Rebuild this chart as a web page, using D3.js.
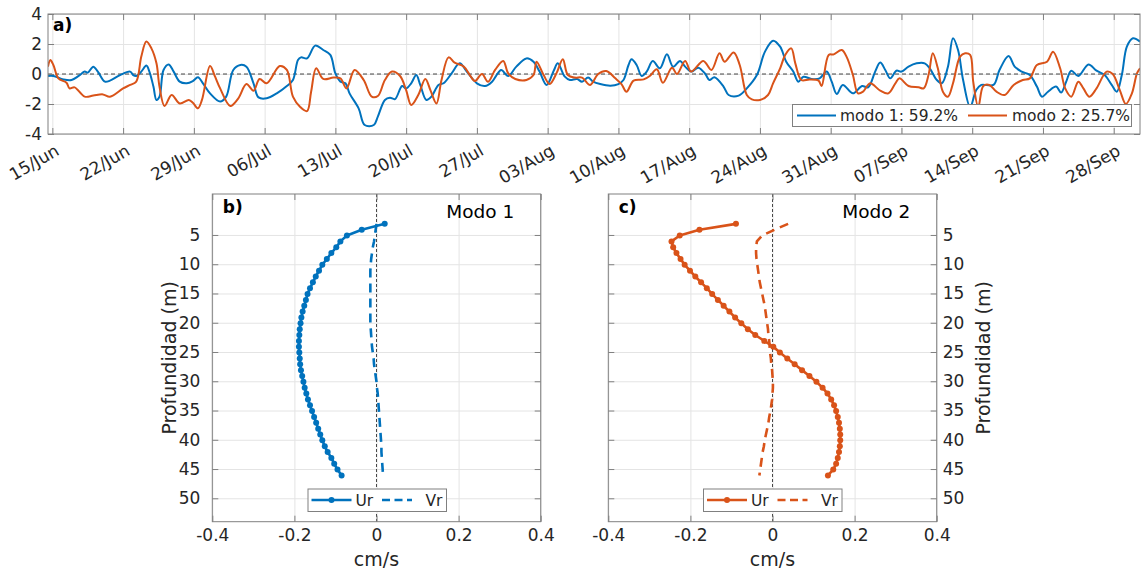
<!DOCTYPE html>
<html>
<head>
<meta charset="utf-8">
<script src="https://cdn.jsdelivr.net/npm/d3@7"></script>
<style>
  body { margin: 0; background: #fff; }
  svg { font-family: "DejaVu Sans", sans-serif; }
</style>
</head>
<body>
<svg id="fig" width="1141" height="573"></svg>
<script>
// ---------- time series of the two EOF modes (days after 15 Jun) ----------
const mode1Days = [-0.43,0.1,1.1,1.9,2.6,3.2,3.5,4.05,4.5,5.2,5.7,6.7,7.7,8.0,8.3,8.8,9.3,9.6,10.0,10.3,10.6,11.0,11.5,12.0,12.6,13.3,13.9,14.4,14.9,15.6,16.6,17.2,17.9,18.6,19.2,19.9,20.4,21.2,22.2,23.2,23.8,24.3,24.6,25.2,26.0,26.8,27.5,28.0,28.5,29.0,29.4,30.3,30.9,31.8,32.2,32.9,33.4,33.9,34.6,35.0,35.5,36.0,36.4,37.0,37.5,38.2,38.7,39.5,40.3,41.0,42.0,42.8,43.5,43.9,44.4,45.1,45.9,46.9,47.6,48.2,48.9,49.6,50.0,50.7,51.2,51.9,52.4,53.0,53.5,54.2,55.2,56.0,56.5,57.0,57.3,57.8,58.3,58.8,59.4,60.1,60.8,61.4,62.1,62.6,63.2,63.9,64.6,65.0,65.5,66.4,66.9,67.9,68.7,69.7,70.5,71.3,72.0,72.6,73.3,73.8,74.3,75.1,75.9,76.6,77.1,77.6,78.2,79.2,80.1,80.7,81.4,81.9,82.4,82.9,83.5,84.0,84.7,85.5,86.3,86.8,87.5,88.0,88.6,89.1,89.6,90.1,90.8,91.4,91.9,93.1,93.7,94.6,95.2,95.9,96.7,97.4,97.9,98.5,99.3,99.8,100.3,100.8,101.5,102.5,103.3,104.1,104.8,105.3,105.8,106.3,106.9,107.6];
const mode1Amp = [-0.13,-0.13,-0.36,-0.40,-0.13,0.16,0.09,0.49,0.16,-0.51,-0.44,-0.07,0.16,-0.07,-0.13,0.16,0.56,0.16,-0.84,-1.73,-1.51,0.27,0.64,0.16,-0.51,-0.62,-0.47,-0.22,-0.62,-1.29,-1.84,-1.51,0.27,0.60,0.49,-0.62,-1.56,-1.62,-1.29,-0.80,-0.40,0.93,1.11,1.04,1.89,1.60,1.27,0.04,-0.51,-0.62,-1.29,-2.29,-3.40,-3.40,-2.84,-1.73,-1.58,-1.67,-0.80,-0.96,-0.62,-0.07,-0.73,-1.73,-1.51,-0.73,-0.62,0.04,0.71,0.16,-0.62,-0.80,-0.51,-0.13,0.27,-0.13,0.49,1.04,0.82,0.16,-0.73,0.22,0.71,-0.18,-0.40,-0.33,-0.51,-0.24,-0.51,-0.67,-0.78,-0.67,-0.40,0.60,0.98,0.60,-0.13,0.16,0.87,0.38,1.31,0.49,0.87,0.49,0.16,0.42,0.00,-0.40,-0.22,-0.84,-1.40,-1.44,-0.96,-0.07,1.49,2.22,1.82,0.82,0.16,-0.51,-0.18,-0.33,-0.29,0.16,-0.51,-1.33,-0.73,-1.29,-0.80,-0.89,0.16,0.76,0.27,-0.29,0.22,0.16,0.49,0.71,0.71,0.38,-0.40,-0.62,0.49,2.38,1.60,-0.40,-2.20,-1.07,-0.73,-0.73,0.27,1.20,0.49,0.16,-0.07,-0.84,-1.51,-1.18,-0.84,-1.24,-0.51,0.22,-0.13,0.64,0.22,-0.07,-0.73,-1.18,-0.07,1.82,2.38,2.16];

const mode2Days = [-0.43,-0.2,0.1,0.6,1.4,1.7,2.2,3.2,4.05,5.0,5.7,7.0,7.7,8.3,8.8,9.3,9.8,10.3,10.6,11.1,11.8,12.6,13.5,13.9,14.4,14.8,15.6,16.1,16.6,17.6,18.4,19.2,19.9,20.5,21.2,22.5,23.2,23.8,24.5,25.2,25.6,26.1,26.8,27.8,28.5,29.1,29.9,30.8,31.6,32.2,32.9,33.6,34.4,35.0,35.5,36.2,36.9,37.4,38.0,38.5,39.2,39.8,40.7,41.3,41.8,42.5,43.1,43.8,44.6,45.1,45.8,46.9,47.6,47.9,48.6,49.2,49.9,50.5,51.0,51.7,52.4,53.2,54.0,54.8,55.7,56.3,56.8,57.5,58.5,59.1,59.8,60.4,61.3,61.8,62.6,63.2,64.4,65.2,66.0,66.5,67.4,68.0,68.7,69.2,70.0,70.8,71.3,72.0,72.5,73.1,73.5,74.1,74.9,75.8,76.1,76.8,77.3,78.1,78.6,79.2,79.7,80.2,80.9,81.9,82.7,83.4,83.8,84.7,85.7,86.2,86.7,87.1,87.6,88.1,88.6,89.1,89.8,90.3,90.8,91.1,91.6,92.1,92.7,93.4,94.2,95.1,96.0,96.7,97.4,98.4,99.0,99.7,100.2,100.8,101.5,102.0,102.6,103.3,104.3,104.9,105.6,106.2,106.8,107.3,107.6];
const mode2Amp = [0.49,0.93,0.60,-0.29,-0.58,-0.96,-0.89,-1.51,-1.44,-1.36,-1.51,-0.96,-0.73,-0.51,1.16,2.16,1.71,0.71,-0.84,-2.13,-1.40,-1.96,-1.73,-1.91,-2.29,-1.73,0.53,-0.18,-0.96,-2.13,-1.62,-0.67,-1.11,-0.33,-0.62,0.53,0.27,-1.51,-2.18,-2.47,-1.18,0.38,-0.33,-0.24,-0.29,-0.96,0.27,-0.40,-1.51,-1.47,-0.40,0.16,-0.13,-1.07,-2.07,-1.40,-0.33,-1.07,-1.96,-0.40,1.11,0.76,0.49,-0.07,-0.47,0.00,-0.51,0.27,0.87,0.04,-0.33,-0.40,-0.07,0.82,-0.07,-0.67,0.09,0.98,-0.07,-0.24,-0.24,-0.73,0.00,0.20,-0.29,-0.67,-1.18,-0.44,-0.36,-0.13,0.31,-0.58,0.42,0.00,0.87,0.16,0.87,0.27,1.38,0.82,1.44,0.60,-1.40,-1.69,-1.73,-1.40,-0.62,0.38,1.27,1.71,0.71,-0.40,-0.36,-0.44,-0.80,1.27,1.31,1.60,1.11,-0.07,-1.29,-1.18,-0.62,-1.11,-1.29,-0.62,-0.29,-0.80,-0.89,-0.96,0.00,1.38,0.38,-1.18,-1.51,-0.62,1.16,1.38,1.27,-0.51,-2.20,-0.80,-0.73,-1.18,-1.40,-0.73,-0.40,-0.29,0.60,0.82,1.49,0.38,-0.96,-1.51,-0.51,-0.96,-1.51,-0.96,0.16,0.00,-1.07,-2.00,-1.29,0.04,0.38];

const modeNames = ["modo 1: 59.2%", "modo 2: 25.7%"];
const dateTickLabels = ["15/Jun","22/Jun","29/Jun","06/Jul","13/Jul","20/Jul","27/Jul","03/Aug","10/Aug","17/Aug","24/Aug","31/Aug","07/Sep","14/Sep","21/Sep","28/Sep"];
const ampTicks = [-4, -2, 0, 2, 4];

// ---------- vertical structure of the modes ----------
const depthBins = [3.1,4.1,5.1,6.1,7.1,8.1,9.1,10.1,11.1,12.1,13.1,14.1,15.1,16.1,17.1,18.1,19.1,20.1,21.1,22.1,23.1,24.1,25.1,26.1,27.1,28.1,29.1,30.1,31.1,32.1,33.1,34.1,35.1,36.1,37.1,38.1,39.1,40.1,41.1,42.1,43.1,44.1,45.1,46.1];
const ur1 = [0.020,-0.036,-0.072,-0.088,-0.098,-0.110,-0.121,-0.132,-0.140,-0.148,-0.155,-0.162,-0.168,-0.172,-0.176,-0.180,-0.183,-0.185,-0.187,-0.188,-0.189,-0.189,-0.188,-0.187,-0.186,-0.184,-0.181,-0.178,-0.175,-0.171,-0.167,-0.162,-0.157,-0.152,-0.147,-0.142,-0.137,-0.132,-0.126,-0.119,-0.110,-0.103,-0.095,-0.085];
const vr1 = [0.000,-0.002,-0.004,-0.006,-0.009,-0.011,-0.013,-0.014,-0.015,-0.015,-0.015,-0.015,-0.015,-0.015,-0.015,-0.015,-0.015,-0.015,-0.014,-0.013,-0.012,-0.011,-0.009,-0.007,-0.006,-0.004,-0.002,0.000,0.001,0.003,0.004,0.005,0.006,0.007,0.008,0.009,0.010,0.011,0.012,0.012,0.013,0.014,0.015,0.016];
const ur2 = [-0.089,-0.178,-0.226,-0.246,-0.242,-0.234,-0.224,-0.214,-0.201,-0.188,-0.174,-0.160,-0.147,-0.133,-0.119,-0.105,-0.091,-0.076,-0.060,-0.042,-0.020,0.002,0.018,0.036,0.054,0.072,0.090,0.107,0.122,0.134,0.143,0.150,0.155,0.159,0.162,0.164,0.165,0.165,0.164,0.162,0.159,0.155,0.148,0.135];
const vr2 = [0.038,0.005,-0.025,-0.038,-0.040,-0.040,-0.039,-0.037,-0.035,-0.033,-0.031,-0.028,-0.025,-0.022,-0.019,-0.017,-0.015,-0.013,-0.011,-0.010,-0.008,-0.007,-0.006,-0.004,-0.003,-0.001,0.000,0.001,0.001,0.000,-0.001,-0.003,-0.005,-0.008,-0.010,-0.013,-0.016,-0.019,-0.021,-0.024,-0.026,-0.028,-0.030,-0.032];
const speedTicks = [-0.4, -0.2, 0, 0.2, 0.4];
const depthTicks = [5, 10, 15, 20, 25, 30, 35, 40, 45, 50];

// ---------- styling ----------
const TXT = "#262626", AXC = "#808080", GRID = "#e4e4e4";
const BLUE = "#0072BD", ORANGE = "#D95319";
const TICK_FS = 17, LAB_FS = 19, LEG_FS = 15.5;

// tick labels with a plain hyphen as minus sign
const plain = d3.formatLocale({ decimal: ".", thousands: ",", grouping: [3], currency: ["", ""], minus: "-" });
const fmtInt = plain.format("d");
const fmtSpeed = d => (d === 0 ? "0" : plain.format(".1f")(d));

const svg = d3.select("#fig");

function styleAxis(g) {
  g.select(".domain").remove();
  g.selectAll(".tick line").attr("stroke", AXC).attr("stroke-width", 1);
  g.selectAll(".tick text").attr("fill", TXT).style("font-size", TICK_FS + "px")
    .style("font-family", '"DejaVu Sans", sans-serif');
}
function gridAxis(g) {
  g.select(".domain").remove();
  g.selectAll(".tick line").attr("stroke", GRID).attr("stroke-width", 1);
  g.selectAll(".tick text").remove();
}

// =================== panel a: time series ===================
const A = { l: 48, r: 1140, t: 14, b: 134 };
const day0 = new Date(2019, 5, 15);
const toDate = d => new Date(day0.getTime() + d * 864e5);
const tickDates = dateTickLabels.map((_, i) => toDate(7 * i));

const xA = d3.scaleTime().domain([toDate(-0.43), toDate(107.6)]).range([A.l, A.r]);
const yA = d3.scaleLinear().domain([-4, 4]).range([A.b, A.t]);

const gA = svg.append("g");
gA.append("g").attr("transform", `translate(0,${A.b})`)
  .call(d3.axisBottom(xA).tickValues(tickDates).tickSize(-(A.b - A.t)).tickFormat(""))
  .call(gridAxis);
gA.append("g").attr("transform", `translate(${A.l},0)`)
  .call(d3.axisLeft(yA).tickValues(ampTicks).tickSize(-(A.r - A.l)).tickFormat(""))
  .call(gridAxis);

gA.append("line").attr("x1", A.l).attr("x2", A.r).attr("y1", yA(0)).attr("y2", yA(0))
  .attr("stroke", "#1a1a1a").attr("stroke-width", 0.8).attr("stroke-dasharray", "4,3");

svg.append("clipPath").attr("id", "clipA").append("rect")
  .attr("x", A.l).attr("y", A.t).attr("width", A.r - A.l).attr("height", A.b - A.t);

const lineA = d3.line().x(d => xA(toDate(d[0]))).y(d => yA(d[1])).curve(d3.curveCatmullRom.alpha(0.5));
const seriesA = [
  { days: mode1Days, amp: mode1Amp, color: BLUE },
  { days: mode2Days, amp: mode2Amp, color: ORANGE }
];
seriesA.forEach(s => {
  gA.append("path").attr("clip-path", "url(#clipA)")
    .datum(s.days.map((d, i) => [d, s.amp[i]]))
    .attr("d", lineA).attr("fill", "none").attr("stroke", s.color)
    .attr("stroke-width", 2).attr("stroke-linejoin", "round");
});

// ticks on all four sides, pointing inward
gA.append("g").attr("transform", `translate(0,${A.b})`)
  .call(d3.axisBottom(xA).tickValues(tickDates).tickSize(-6).tickFormat("")).call(styleAxis);
gA.append("g").attr("transform", `translate(0,${A.t})`)
  .call(d3.axisTop(xA).tickValues(tickDates).tickSize(-6).tickFormat("")).call(styleAxis);
gA.append("g").attr("transform", `translate(${A.l},0)`)
  .call(d3.axisLeft(yA).tickValues(ampTicks).tickSize(-6).tickPadding(6).tickFormat(fmtInt)).call(styleAxis);
gA.append("g").attr("transform", `translate(${A.r},0)`)
  .call(d3.axisRight(yA).tickValues(ampTicks).tickSize(-6).tickFormat("")).call(styleAxis);
gA.append("rect").attr("x", A.l).attr("y", A.t).attr("width", A.r - A.l).attr("height", A.b - A.t)
  .attr("fill", "none").attr("stroke", AXC).attr("stroke-width", 1);

// rotated date labels
gA.selectAll("text.date").data(tickDates).join("text")
  .attr("class", "date")
  .attr("transform", (d) => `translate(${xA(d) + 8},${154}) rotate(-30)`)
  .attr("text-anchor", "end").attr("fill", TXT).style("font-size", TICK_FS + "px")
  .text((d, i) => dateTickLabels[i]);

gA.append("text").attr("x", 53).attr("y", 31).attr("fill", "#000")
  .style("font-size", "17px").style("font-weight", "bold").text("a)");

// legend of panel a
const legA = gA.append("g");
legA.append("rect").attr("x", 792.5).attr("y", 104.5).attr("width", 339).attr("height", 22)
  .attr("fill", "#fff").attr("stroke", AXC).attr("stroke-width", 1);
const legItemsA = [
  { x0: 797, x1: 836, tx: 840, color: BLUE, label: modeNames[0] },
  { x0: 968, x1: 1007, tx: 1012, color: ORANGE, label: modeNames[1] }
];
legItemsA.forEach(it => {
  legA.append("line").attr("x1", it.x0).attr("x2", it.x1).attr("y1", 115.5).attr("y2", 115.5)
    .attr("stroke", it.color).attr("stroke-width", 2);
  legA.append("text").attr("x", it.tx).attr("y", 121).attr("fill", TXT)
    .style("font-size", LEG_FS + "px").text(it.label);
});

// =================== panels b and c: vertical profiles ===================
const P = { t: 194, b: 521.7 };
const yP = d3.scaleLinear().domain([-2, 54]).range([P.t, P.b]);

function profilePanel(opt) {
  const x = d3.scaleLinear().domain([-0.4, 0.4]).range([opt.l, opt.r]);
  const g = svg.append("g");

  g.append("g").attr("transform", `translate(0,${P.b})`)
    .call(d3.axisBottom(x).tickValues(speedTicks).tickSize(-(P.b - P.t)).tickFormat(""))
    .call(gridAxis);
  g.append("g").attr("transform", `translate(${opt.l},0)`)
    .call(d3.axisLeft(yP).tickValues(depthTicks).tickSize(-(opt.r - opt.l)).tickFormat(""))
    .call(gridAxis);

  g.append("line").attr("x1", x(0)).attr("x2", x(0)).attr("y1", P.t).attr("y2", P.b)
    .attr("stroke", "#1a1a1a").attr("stroke-width", 0.8).attr("stroke-dasharray", "3,2");

  const u = depthBins.map((d, i) => [opt.u[i], d]);
  const v = depthBins.map((d, i) => [opt.v[i], d]);
  const line = d3.line().x(d => x(d[0])).y(d => yP(d[1]));

  g.append("path").datum(v).attr("d", line).attr("fill", "none")
    .attr("stroke", opt.color).attr("stroke-width", 2.6).attr("stroke-dasharray", "9,6");
  g.append("path").datum(u).attr("d", line).attr("fill", "none")
    .attr("stroke", opt.color).attr("stroke-width", 2.6).attr("stroke-linejoin", "round");
  g.selectAll("circle.m").data(u).join("circle").attr("class", "m")
    .attr("cx", d => x(d[0])).attr("cy", d => yP(d[1])).attr("r", 3).attr("fill", opt.color);

  g.append("g").attr("transform", `translate(0,${P.b})`)
    .call(d3.axisBottom(x).tickValues(speedTicks).tickSize(-6).tickPadding(7).tickFormat(fmtSpeed)).call(styleAxis);
  g.append("g").attr("transform", `translate(0,${P.t})`)
    .call(d3.axisTop(x).tickValues(speedTicks).tickSize(-6).tickFormat("")).call(styleAxis);
  g.append("g").attr("transform", `translate(${opt.l},0)`)
    .call(d3.axisLeft(yP).tickValues(depthTicks).tickSize(-6).tickPadding(12)
      .tickFormat(opt.side === "left" ? fmtInt : "")).call(styleAxis);
  g.append("g").attr("transform", `translate(${opt.r},0)`)
    .call(d3.axisRight(yP).tickValues(depthTicks).tickSize(-6).tickPadding(6)
      .tickFormat(opt.side === "right" ? fmtInt : "")).call(styleAxis);
  g.append("rect").attr("x", opt.l).attr("y", P.t).attr("width", opt.r - opt.l).attr("height", P.b - P.t)
    .attr("fill", "none").attr("stroke", AXC).attr("stroke-width", 1);

  g.append("text").attr("x", (opt.l + opt.r) / 2).attr("y", 566).attr("text-anchor", "middle")
    .attr("fill", TXT).style("font-size", LAB_FS + "px").text("cm/s");
  g.append("text").attr("transform", `translate(${opt.ylabX},${(P.t + P.b) / 2}) rotate(-90)`)
    .attr("text-anchor", "middle").attr("fill", TXT).style("font-size", LAB_FS + "px")
    .text("Profundidad (m)");

  g.append("text").attr("x", opt.l + 10.5).attr("y", 213).attr("fill", "#000")
    .style("font-size", "17px").style("font-weight", "bold").text(opt.tag);
  g.append("text").attr("x", opt.l + 234).attr("y", 218).attr("fill", "#000")
    .style("font-size", "18.5px").text(opt.title);

  // legend
  const lx = opt.legX;
  const leg = g.append("g");
  leg.append("rect").attr("x", lx).attr("y", 489).attr("width", 138.5).attr("height", 22.5)
    .attr("fill", "#fff").attr("stroke", AXC).attr("stroke-width", 1);
  leg.append("line").attr("x1", lx + 3.5).attr("x2", lx + 43.5).attr("y1", 500).attr("y2", 500)
    .attr("stroke", opt.color).attr("stroke-width", 2.6);
  leg.append("circle").attr("cx", lx + 23.5).attr("cy", 500).attr("r", 3).attr("fill", opt.color);
  leg.append("text").attr("x", lx + 47.5).attr("y", 506).attr("fill", TXT)
    .style("font-size", LEG_FS + "px").text("Ur");
  leg.append("line").attr("x1", lx + 74).attr("x2", lx + 104).attr("y1", 500).attr("y2", 500)
    .attr("stroke", opt.color).attr("stroke-width", 2.6).attr("stroke-dasharray", "8,4.5");
  leg.append("text").attr("x", lx + 117.5).attr("y", 506).attr("fill", TXT)
    .style("font-size", LEG_FS + "px").text("Vr");
}

profilePanel({ l: 212.3, r: 540.7, u: ur1, v: vr1, color: BLUE, side: "left",
  ylabX: 175.5, tag: "b)", title: "Modo 1", legX: 308 });
profilePanel({ l: 608.3, r: 936.7, u: ur2, v: vr2, color: ORANGE, side: "right",
  ylabX: 990, tag: "c)", title: "Modo 2", legX: 703.5 });
</script>
</body>
</html>
